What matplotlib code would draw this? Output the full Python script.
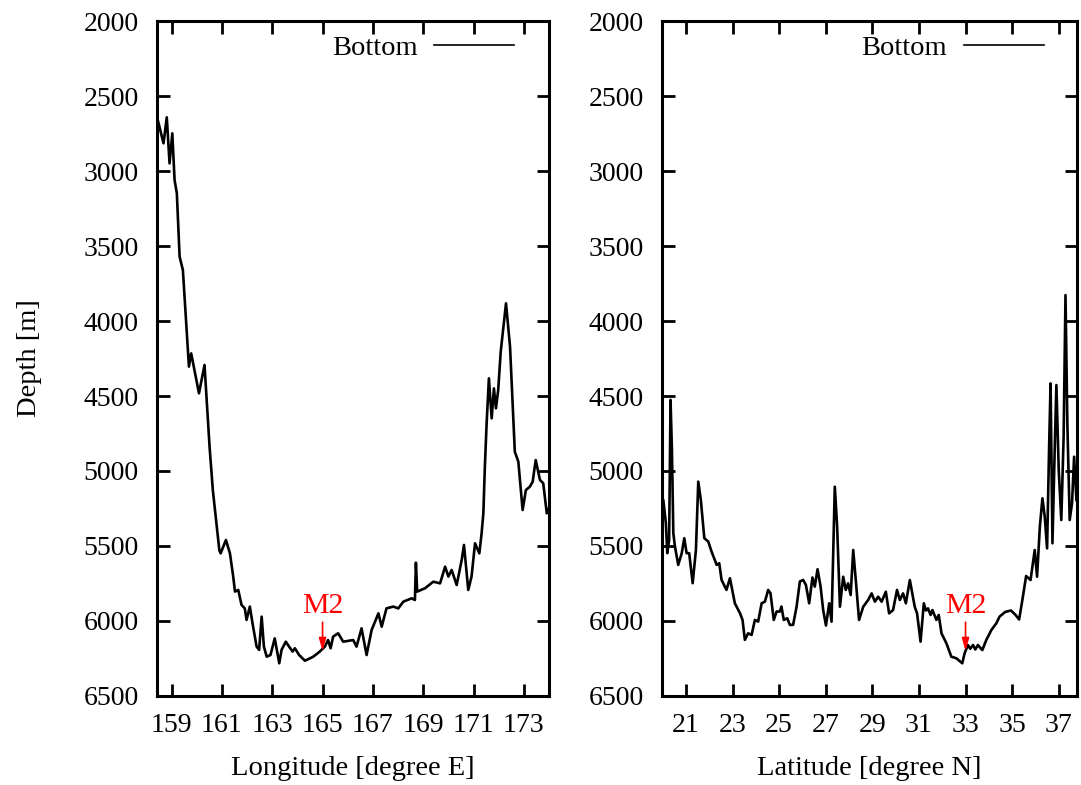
import numpy as np
import matplotlib
matplotlib.use("Agg")
import matplotlib.pyplot as plt

# Perfil de fondo a lo largo de la longitud (seccion zonal)
lon = [158.42, 158.68, 158.81, 158.92, 159.03, 159.12, 159.21, 159.32, 159.45,
       159.69, 159.78, 160.09, 160.31, 160.51, 160.64, 160.90, 160.95, 161.16,
       161.32, 161.45, 161.52, 161.65, 161.78, 161.91, 161.98, 162.11, 162.24,
       162.38, 162.48, 162.58, 162.67, 162.78, 162.93, 163.10, 163.28, 163.37,
       163.54, 163.67, 163.81, 163.90, 164.07, 164.30, 164.50, 164.63, 164.89,
       165.09, 165.22, 165.32, 165.42, 165.62, 165.82, 166.22, 166.35, 166.55,
       166.75, 166.95, 167.22, 167.35, 167.54, 167.81, 168.01, 168.21, 168.54,
       168.67, 168.71, 168.76, 169.07, 169.40, 169.67, 169.87, 170.00, 170.13,
       170.33, 170.53, 170.62, 170.79, 170.92, 171.06, 171.23, 171.32, 171.39,
       171.45, 171.52, 171.61, 171.72, 171.81, 171.89, 171.98, 172.08, 172.29,
       172.45, 172.64, 172.78, 172.95, 173.08, 173.24, 173.35, 173.47, 173.64,
       173.77, 173.91, 173.99]
prof_lon = [2638, 2815, 2642, 2949, 2749, 3060, 3149, 3571, 3660,
            4304, 4216, 4482, 4293, 4838, 5127, 5530, 5549, 5460,
            5549, 5704, 5804, 5793, 5893, 5916, 5993, 5904, 6038,
            6171, 6193, 5971, 6171, 6238, 6227, 6116, 6282, 6193,
            6138, 6171, 6204, 6182, 6227, 6265, 6249, 6238, 6204,
            6171, 6127, 6182, 6104, 6082, 6138, 6127, 6171, 6049,
            6227, 6060, 5949, 6038, 5916, 5904, 5916, 5871, 5849,
            5860, 5611, 5804, 5782, 5738, 5749, 5638, 5704, 5660,
            5760, 5593, 5493, 5793, 5704, 5482, 5549, 5416, 5282,
            4971, 4682, 4382, 4649, 4449, 4582, 4460, 4204, 3882,
            4171, 4871, 4938, 5260, 5127, 5104, 5071, 4927, 5060,
            5082, 5282, 5250]

# Perfil de fondo a lo largo de la latitud (seccion meridional)
lat = [19.96, 20.03, 20.14, 20.20, 20.28, 20.34, 20.40, 20.46, 20.53, 20.67,
       20.82, 20.93, 21.03, 21.14, 21.29, 21.43, 21.53, 21.64, 21.79, 21.96,
       22.10, 22.32, 22.43, 22.53, 22.74, 22.89, 23.10, 23.32, 23.43, 23.53,
       23.67, 23.82, 23.96, 24.10, 24.25, 24.39, 24.53, 24.63, 24.77, 24.89,
       25.03, 25.10, 25.20, 25.35, 25.46, 25.60, 25.75, 25.89, 26.03, 26.15,
       26.29, 26.43, 26.53, 26.65, 26.78, 26.89, 27.01, 27.15, 27.25, 27.39,
       27.49, 27.61, 27.75, 27.86, 27.96, 28.07, 28.18, 28.29, 28.43, 28.61,
       28.82, 28.97, 29.11, 29.25, 29.40, 29.58, 29.72, 29.89, 30.06, 30.18,
       30.32, 30.44, 30.61, 30.82, 30.92, 31.07, 31.21, 31.30, 31.39, 31.50,
       31.58, 31.75, 31.85, 31.97, 32.18, 32.39, 32.61, 32.86, 32.96, 33.10,
       33.20, 33.32, 33.42, 33.53, 33.72, 33.89, 34.11, 34.32, 34.46, 34.70,
       34.95, 35.15, 35.30, 35.45, 35.60, 35.79, 35.97, 36.07, 36.19, 36.30,
       36.40, 36.50, 36.59, 36.65, 36.73, 36.83, 36.90, 37.00, 37.11, 37.21,
       37.29, 37.37, 37.47, 37.57, 37.66, 37.76]
prof_lat = [5200, 5193, 5349, 5548, 5460, 4526, 4860, 5415, 5504, 5626,
            5548, 5448, 5548, 5548, 5748, 5526, 5071, 5193, 5448, 5471,
            5537, 5626, 5615, 5726, 5793, 5715, 5882, 5948, 5993, 6126,
            6082, 6093, 5993, 6004, 5882, 5871, 5793, 5815, 5993, 5937,
            5937, 5904, 5993, 5982, 6026, 6026, 5904, 5737, 5726, 5760,
            5882, 5710, 5771, 5655, 5771, 5926, 6030, 5882, 6005, 5105,
            5371, 5905, 5705, 5793, 5749, 5827, 5527, 5727, 5993, 5905,
            5860, 5816, 5871, 5838, 5871, 5805, 5949, 5927, 5793, 5860,
            5816, 5882, 5727, 5905, 5949, 6138, 5882, 5930, 5916, 5960,
            5927, 5993, 5960, 6083, 6149, 6238, 6249, 6282, 6216, 6160,
            6185, 6160, 6190, 6160, 6194, 6127, 6060, 6016, 5971, 5940,
            5930, 5960, 5990, 5850, 5700, 5727, 5527, 5705, 5371, 5182,
            5305, 5516, 4816, 4416, 5482, 4838, 4427, 4994, 5327, 4771,
            3827, 4682, 5327, 5216, 4905, 5194]

# Posicion del fondeo M2 en cada seccion
m2_lon, m2_lat = 165.0, 33.0
m2_prof = 6200

xt_lon = np.arange(159, 174, 2)
xt_lat = np.arange(21, 38, 2)
yt = np.arange(2000, 6501, 500)

plt.rcParams['font.family'] = ['Liberation Serif', 'DejaVu Serif']
plt.rcParams['font.size'] = 20

fig = plt.figure(figsize=(10.81, 7.85), dpi=100)
ax1 = fig.add_axes([0.1452, 0.1134, 0.3627, 0.8598])
ax2 = fig.add_axes([0.6121, 0.1134, 0.3839, 0.8598])


def preparar(ax, x, y, xlim, xticks, xlabel, m2x, bbox_x):
    ax.plot(x, y, color='black', lw=1.9, label='Bottom')
    ax.set_xlim(*xlim)
    ax.set_ylim(6500, 2000)
    ax.set_xticks(xticks)
    ax.set_yticks(yt)
    ax.set_xlabel(xlabel, labelpad=13, fontsize=20.5)
    ax.tick_params(direction='in', length=9, width=2, top=True, right=True)
    ax.tick_params(axis='x', pad=12)
    ax.tick_params(axis='y', pad=13)
    for s in ax.spines.values():
        s.set_linewidth(2.2)
    ax.annotate('M2', xy=(m2x, m2_prof), xytext=(m2x, 5990),
                ha='center', va='bottom', color='red', fontsize=21.5,
                arrowprops=dict(arrowstyle='-|>,head_length=0.35,head_width=0.1',
                                color='red', lw=1.2, shrinkA=0, shrinkB=0))
    leg = ax.legend(loc='upper right', bbox_to_anchor=(bbox_x, 0.979),
                    borderaxespad=0, borderpad=0, frameon=False,
                    markerfirst=False, handlelength=2.8, handletextpad=0.6,
                    fontsize=20.5)
    leg.get_lines()[0].set_linewidth(1.2)


preparar(ax1, lon, prof_lon, (158.42, 174.0), xt_lon,
         'Longitude [degree E]', m2_lon, 0.911)
preparar(ax2, lat, prof_lat, (19.96, 37.77), xt_lat,
         'Latitude [degree N]', m2_lat, 0.921)
ax1.set_ylabel('Depth [m]', labelpad=30, fontsize=20.5)

fig.savefig('out.png', dpi=100)
